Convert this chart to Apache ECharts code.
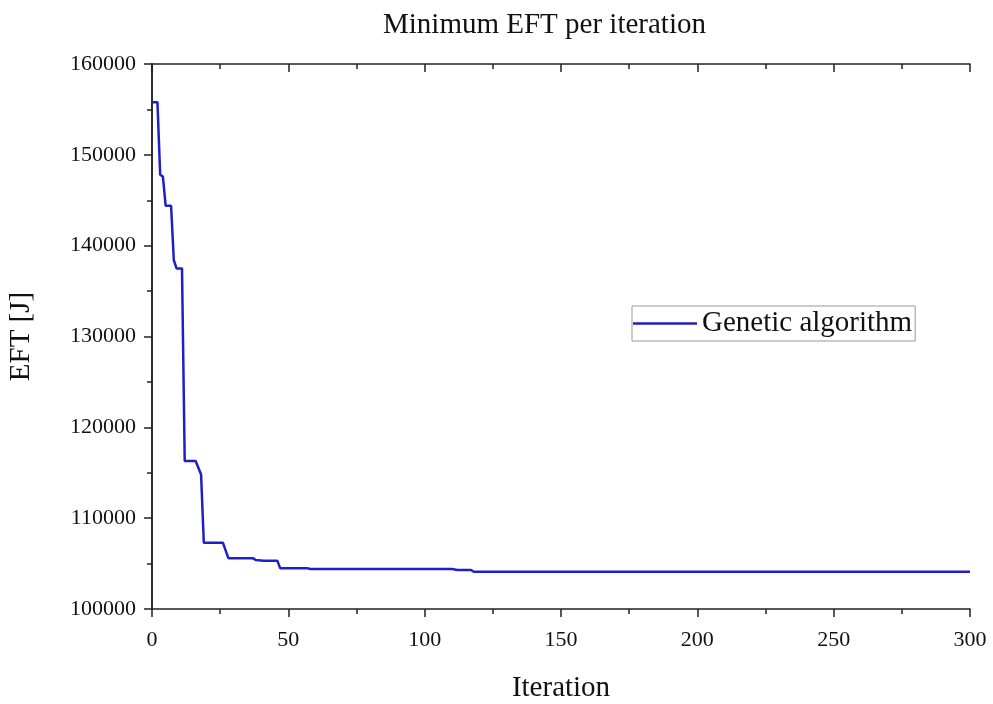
<!DOCTYPE html>
<html>
<head>
<meta charset="utf-8">
<title>Minimum EFT per iteration</title>
<script src="https://cdn.jsdelivr.net/npm/echarts@6/dist/echarts.min.js"></script>
<style>
  html, body { margin: 0; padding: 0; background: #fff; }
  #chart { width: 993px; height: 704px; }
</style>
</head>
<body>
<div id="chart"></div>
<script>
// iteration where the best value changes
var iterations = [0, 2, 3, 4, 5, 7, 8, 9, 11, 12, 16, 18, 19, 26, 28, 37, 38, 41, 46, 47, 57, 58, 110, 112, 117, 118, 300];
// minimum EFT [J] at those iterations
var eftValues = [155800, 155800, 147800, 147600, 144400, 144400, 138400, 137500, 137500, 116300, 116300, 114800, 107300, 107300, 105600, 105600, 105400, 105300, 105300, 104500, 104500, 104400, 104400, 104300, 104300, 104100, 104100];
var xTicks = [0, 50, 100, 150, 200, 250, 300];
var yTicks = [100000, 110000, 120000, 130000, 140000, 150000, 160000];

var serif = 'Liberation Serif';
var axisColor = '#222';
var textColor = '#111';

var chart = echarts.init(document.getElementById('chart'));

var seriesData = [];
for (var i = 0; i < iterations.length; i++) {
  seriesData.push([iterations[i], eftValues[i]]);
}

// shared look for the four sides of the frame
function frameAxis(extra) {
  var base = {
    type: 'value',
    axisLine: { show: true, lineStyle: { color: axisColor, width: 1.5 } },
    axisTick: { show: true, length: 8, lineStyle: { color: axisColor, width: 1.5 } },
    minorTick: { show: true, splitNumber: 2, length: 5, lineStyle: { color: axisColor, width: 1.5 } },
    axisLabel: { show: false },
    splitLine: { show: false }
  };
  return Object.assign(base, extra);
}

var option = {
  backgroundColor: '#fff',
  animation: false,
  title: {
    text: 'Minimum EFT per iteration',
    left: 378,
    top: 6,
    textStyle: { fontFamily: serif, fontSize: 29, fontWeight: 'normal', color: textColor }
  },
  legend: {
    left: 632,
    top: 306,
    padding: [3, 3, 3, 1],
    borderColor: '#999',
    borderWidth: 1,
    icon: 'rect',
    itemWidth: 64,
    itemHeight: 2.5,
    itemGap: 6,
    textStyle: { fontFamily: serif, fontSize: 29, color: textColor },
    data: ['Genetic algorithm']
  },
  grid: { left: 152, right: 23, top: 64, bottom: 95, outerBoundsMode: 'none' },
  xAxis: [
    frameAxis({
      min: xTicks[0],
      max: xTicks[xTicks.length - 1],
      interval: 50,
      name: 'Iteration',
      nameLocation: 'middle',
      nameGap: 65,
      nameTextStyle: { fontFamily: serif, fontSize: 29, color: textColor },
      axisLabel: { show: true, fontFamily: serif, fontSize: 22, color: textColor, margin: 20 }
    }),
    frameAxis({
      position: 'top',
      min: xTicks[0],
      max: xTicks[xTicks.length - 1],
      interval: 50,
      axisTick: { show: true, inside: true, length: 8, lineStyle: { color: axisColor, width: 1.5 } }
    })
  ],
  yAxis: [
    frameAxis({
      min: yTicks[0],
      max: yTicks[yTicks.length - 1],
      interval: 10000,
      name: 'EFT [J]',
      nameLocation: 'middle',
      nameGap: 116,
      nameTextStyle: { fontFamily: serif, fontSize: 29, color: textColor },
      axisLabel: {
        show: true, fontFamily: serif, fontSize: 22, color: textColor, margin: 16,
        formatter: function (v) { return String(v); }
      }
    }),
    frameAxis({
      position: 'right',
      min: yTicks[0],
      max: yTicks[yTicks.length - 1],
      interval: 10000,
      axisTick: { show: true, inside: true, length: 8, lineStyle: { color: axisColor, width: 1.5 } }
    })
  ],
  series: [{
    name: 'Genetic algorithm',
    type: 'line',
    xAxisIndex: 0,
    yAxisIndex: 0,
    symbol: 'none',
    lineStyle: { color: '#1f1fc8', width: 2.5 },
    itemStyle: { color: '#1f1fc8' },
    data: seriesData
  }]
};

chart.setOption(option);
</script>
</body>
</html>
